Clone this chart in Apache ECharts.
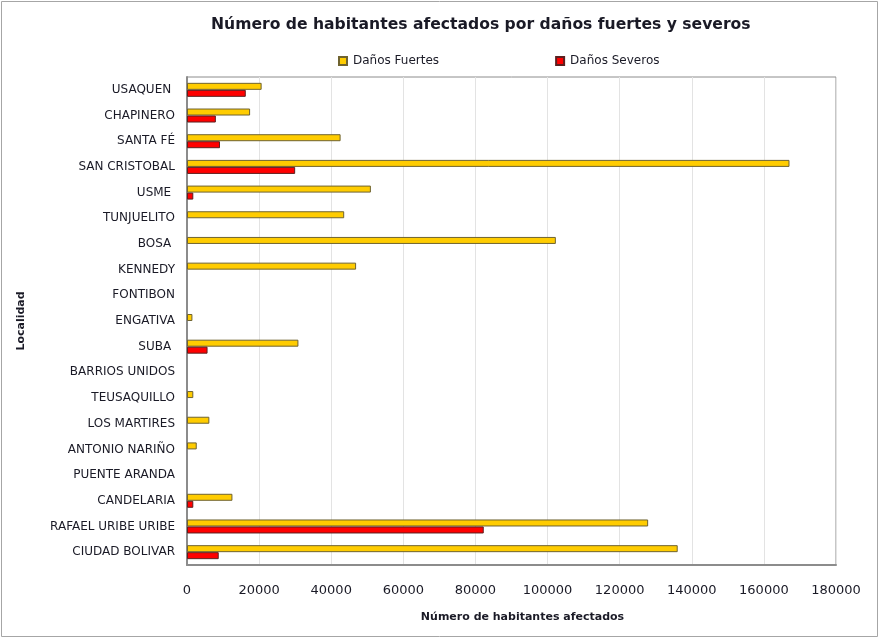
<!DOCTYPE html>
<html>
<head>
<meta charset="utf-8">
<script src="https://cdn.jsdelivr.net/npm/echarts@6/dist/echarts.min.js"></script>
<style>
  html, body { margin: 0; padding: 0; background: #ffffff; }
  #chart { width: 879px; height: 638px; }
</style>
</head>
<body>
<div id="chart"></div>
<script>
// Localidades de Bogotá (top to bottom)
const localidades = [
  'USAQUEN ', 'CHAPINERO', 'SANTA FÉ', 'SAN CRISTOBAL', 'USME ', 'TUNJUELITO',
  'BOSA ', 'KENNEDY', 'FONTIBON', 'ENGATIVA', 'SUBA ', 'BARRIOS UNIDOS',
  'TEUSAQUILLO', 'LOS MARTIRES', 'ANTONIO NARIÑO', 'PUENTE ARANDA',
  'CANDELARIA', 'RAFAEL URIBE URIBE', 'CIUDAD BOLIVAR'
];

// Habitantes afectados por daños fuertes
const danosFuertes = [
  20700, 17500, 42600, 167100, 51000, 43600,
  102300, 46900, null, 1500, 30900, null,
  1750, 6200, 2700, null,
  12600, 127900, 136100
];

// Habitantes afectados por daños severos
const danosSeveros = [
  16300, 8000, 9150, 30000, 1750, null,
  null, null, null, null, 5700, null,
  null, null, null, null,
  1750, 82300, 8800
];

const xTicks = { min: 0, max: 180000, interval: 20000 };

const FONT = 'DejaVu Sans';
const TEXT = '#1a1a26';

const chart = echarts.init(document.getElementById('chart'), null, { renderer: 'canvas' });

chart.setOption({
  backgroundColor: '#ffffff',
  animation: false,
  title: {
    text: 'Número de habitantes afectados por daños fuertes y severos',
    left: 206,
    top: 12,
    textStyle: { fontFamily: FONT, fontSize: 15.6, fontWeight: 'bold', color: TEXT }
  },
  legend: {
    left: 333,
    top: 50,
    itemWidth: 8,
    itemHeight: 8,
    itemGap: 116,
    icon: 'rect',
    textStyle: { fontFamily: FONT, fontSize: 12, color: TEXT, padding: [0, 0, 0, 1] }
  },
  grid: {
    left: 187,
    top: 77,
    right: 43,
    bottom: 73,
    show: true,
    borderColor: '#8c8c8c',
    borderWidth: 1
  },
  xAxis: {
    type: 'value',
    min: xTicks.min,
    max: xTicks.max,
    interval: xTicks.interval,
    name: 'Número de habitantes afectados',
    nameLocation: 'middle',
    nameGap: 47,
    nameTextStyle: { fontFamily: FONT, fontSize: 11, fontWeight: 'bold', color: TEXT, padding: [0, 0, 0, 22] },
    axisLine: { show: true, lineStyle: { color: '#8c8c8c', width: 2 } },
    axisTick: { show: false },
    axisLabel: {
      fontFamily: FONT, fontSize: 13, color: TEXT, margin: 19,
      formatter: function (v) { return String(v); }
    },
    splitLine: { show: true, lineStyle: { color: '#e3e3e3', width: 1 } }
  },
  yAxis: {
    type: 'category',
    data: localidades,
    inverse: true,
    name: 'Localidad',
    nameLocation: 'middle',
    nameGap: 160,
    nameTextStyle: { fontFamily: FONT, fontSize: 11, fontWeight: 'bold', color: TEXT },
    axisLine: { show: true, lineStyle: { color: '#8c8c8c', width: 2 } },
    axisTick: { show: false },
    axisLabel: { fontFamily: FONT, fontSize: 12, color: TEXT, margin: 12 },
    splitLine: { show: false }
  },
  series: [
    {
      name: 'Daños Fuertes',
      type: 'bar',
      data: danosFuertes,
      barWidth: 7,
      barGap: '0%',
      itemStyle: { color: '#FFCC00', borderColor: '#6f6330', borderWidth: 1 }
    },
    {
      name: 'Daños Severos',
      type: 'bar',
      data: danosSeveros,
      barWidth: 7,
      barGap: '0%',
      itemStyle: { color: '#FF0000', borderColor: '#5c1f1f', borderWidth: 1 }
    }
  ],
  graphic: [
    {
      type: 'rect',
      shape: { x: 1.5, y: 1.5, width: 876, height: 635 },
      style: { fill: 'none', stroke: '#a6a6a6', lineWidth: 1 },
      silent: true
    }
  ]
});
</script>
</body>
</html>
